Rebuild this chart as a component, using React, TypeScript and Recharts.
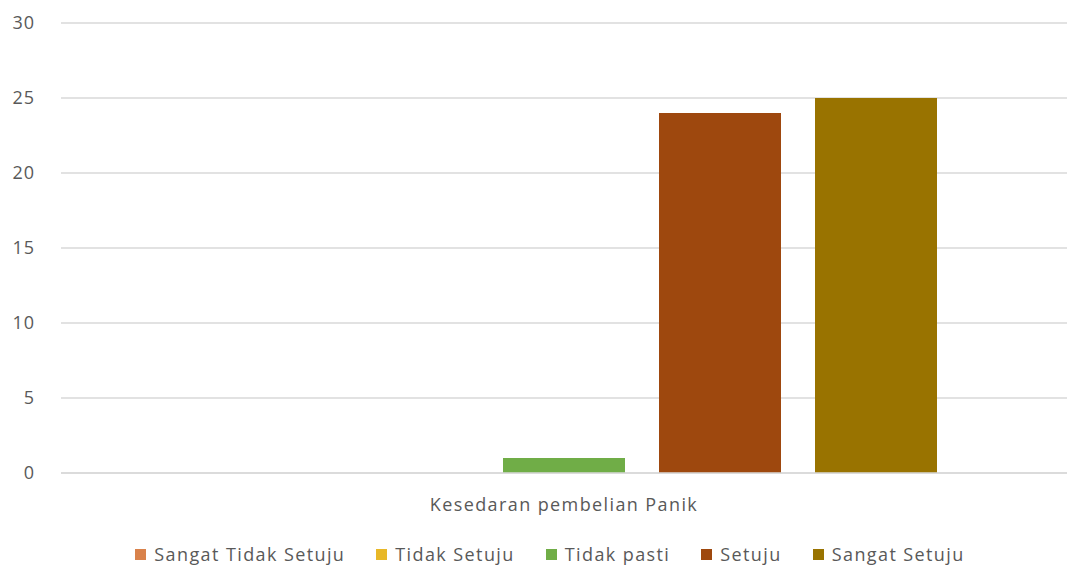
import React from 'react'
import { BarChart, Bar, XAxis, YAxis, CartesianGrid, Legend } from 'recharts'

const categories = ['Kesedaran pembelian Panik']
const seriesNames = ['Sangat Tidak Setuju', 'Tidak Setuju', 'Tidak pasti', 'Setuju', 'Sangat Setuju']
const seriesValues = [[0], [0], [1], [24], [25]]
const seriesColors = ['#d9824b', '#e8b828', '#70ad47', '#9e480e', '#997300']
const yTicks = [0, 5, 10, 15, 20, 25, 30]

const data = categories.map((name, i) => {
  const row: Record<string, string | number> = { name }
  seriesNames.forEach((s, j) => {
    row[s] = seriesValues[j][i]
  })
  return row
})

const FONT = '"Open Sans", sans-serif'
const TEXT = '#595959'

function LegendContent() {
  return (
    <div
      style={{
        height: 40,
        display: 'flex',
        justifyContent: 'center',
        alignItems: 'center',
        fontFamily: FONT,
        fontSize: 18,
        color: TEXT,
        letterSpacing: 1.4,
        paddingLeft: 30,
      }}
    >
      {seriesNames.map((s, i) => (
        <span key={s} style={{ display: 'flex', alignItems: 'center', marginRight: i < seriesNames.length - 1 ? 31 : 0 }}>
          <span style={{ width: 11, height: 11, background: seriesColors[i], marginRight: 8, display: 'inline-block' }} />
          {s}
        </span>
      ))}
    </div>
  )
}

export default function App() {
  return (
    <div style={{ position: 'absolute', left: 0, top: 0, width: 1067, height: 574, background: '#fff' }}>
      <BarChart
        width={1067}
        height={574}
        data={data}
        margin={{ top: 23, right: 0, left: 3, bottom: 0 }}
        barCategoryGap={130}
        barGap={34}
      >
        <CartesianGrid vertical={false} stroke="#d9d9d9" strokeWidth={1.5} />
        <XAxis
          dataKey="name"
          height={61}
          axisLine={{ stroke: '#d9d9d9', strokeWidth: 1.5 }}
          tickLine={false}
          tickMargin={19}
          tick={{ fill: TEXT, fontSize: 18, fontFamily: FONT, letterSpacing: 1.4 }}
        />
        <YAxis
          width={58}
          domain={[0, 30]}
          ticks={yTicks}
          axisLine={false}
          tickLine={false}
          tickMargin={20}
          tick={{ fill: TEXT, fontSize: 18, fontFamily: FONT, letterSpacing: 1 }}
        />
        <Legend verticalAlign="bottom" content={<LegendContent />} />
        {seriesNames.map((s, i) => (
          <Bar key={s} dataKey={s} fill={seriesColors[i]} isAnimationActive={false} />
        ))}
      </BarChart>
    </div>
  )
}
